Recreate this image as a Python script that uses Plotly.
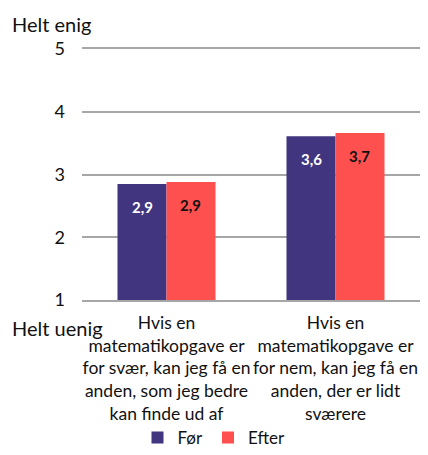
import plotly.graph_objects as go

categories = [
    "Hvis en<br>matematikopgave er<br>for svær, kan jeg få en<br>anden, som jeg bedre<br>kan finde ud af",
    "Hvis en<br>matematikopgave er<br>for nem, kan jeg få en<br>anden, der er lidt<br>sværere",
]
series_names = ["Før", "Efter"]
foer_values = [2.85, 3.61]
efter_values = [2.88, 3.66]
tick_vals = [1, 2, 3, 4, 5]
colors = ["#42357F", "#FF5050"]
label_colors = ["#FFFFFF", "#111111"]

FONT = "Lato, Carlito, Calibri, sans-serif"
GRID = "#A6A6A6"

fig = go.Figure()
for name, vals, col in zip(series_names, [foer_values, efter_values], colors):
    fig.add_trace(go.Bar(name=name, x=categories, y=vals, marker_color=col,
                         marker_line_width=0))

# data labels
for i, (vals, lc) in enumerate(zip([foer_values, efter_values], label_colors)):
    shift = -24 if i == 0 else 24
    for c, v in zip(categories, vals):
        fig.add_annotation(x=c, y=v, text="<b>" + f"{v:.1f}".replace(".", ",") + "</b>",
                           showarrow=False, xshift=shift, yshift=-23,
                           font=dict(family=FONT, size=15, color=lc))

fig.add_annotation(xref="paper", yref="paper", x=-0.213, y=1.0, yshift=25,
                   yanchor="middle", text="Helt enig", showarrow=False, xanchor="left",
                   font=dict(family=FONT, size=20, color="#111"))
fig.add_annotation(xref="paper", yref="paper", x=-0.213, y=0.0, yshift=-28,
                   yanchor="middle", text="Helt uenig", showarrow=False, xanchor="left",
                   font=dict(family=FONT, size=20, color="#111"))

fig.update_layout(
    width=412, height=439,
    margin=dict(l=74, r=0, t=41, b=147, autoexpand=False),
    barmode="group", bargap=0.42, bargroupgap=0,
    plot_bgcolor="white", paper_bgcolor="white",
    font=dict(family=FONT, size=16, color="#111"),
    showlegend=True,
    legend=dict(orientation="h", xref="container", yref="paper",
                x=0.5, xanchor="center", y=-0.55, yanchor="middle",
                font=dict(size=17), traceorder="normal"),
    xaxis=dict(showgrid=False, showline=True, mirror=True, linecolor=GRID,
               linewidth=1.5, ticks="", tickfont=dict(size=17.5), tickangle=0,
               ticklabelstandoff=6),
    yaxis=dict(range=[1, 5], tickvals=tick_vals, showgrid=True,
               gridcolor=GRID, gridwidth=1.5, zeroline=False,
               showline=False, ticks="", tickfont=dict(size=18),
               ticklabelstandoff=16),
)

fig.write_html("out.html")
